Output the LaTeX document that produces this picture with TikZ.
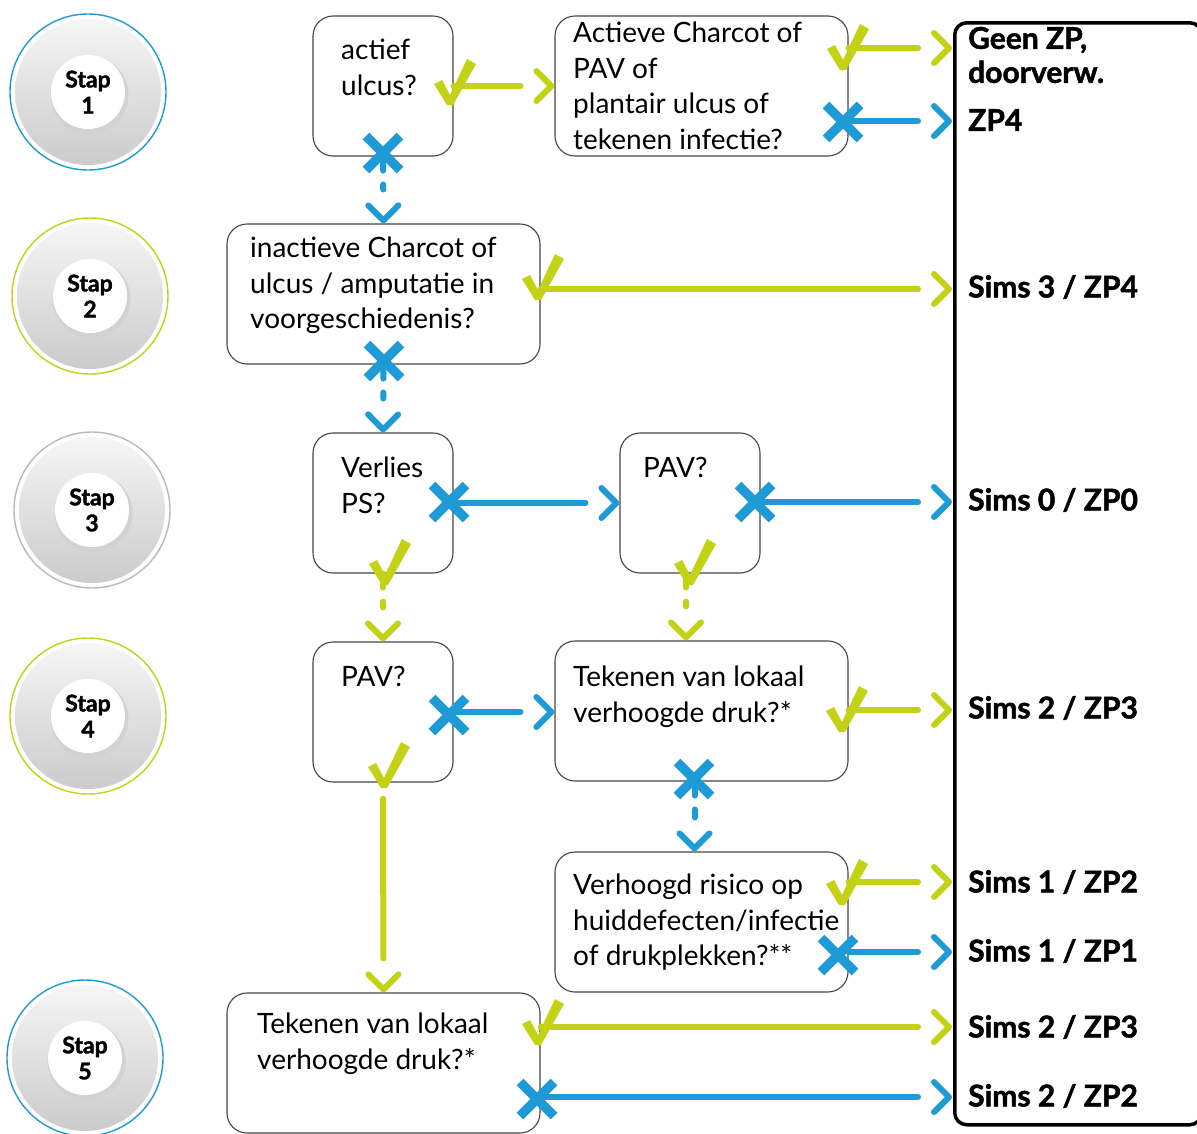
\documentclass[tikz,border=0pt]{standalone}
\usepackage{fontspec}
\setmainfont{Lato}
\newfontfamily\heavyfont[BoldFeatures={FakeBold=1.6}]{Lato}
\usetikzlibrary{arrows.meta,calc,decorations.markings}
\definecolor{lime}{RGB}{196,210,22}
\definecolor{cblue}{RGB}{30,155,214}
\definecolor{boxline}{RGB}{70,70,70}
\tikzset{
  qbox/.style={rectangle, draw=boxline, line width=1.1pt, rounded corners=20pt, inner sep=0pt, fill=white},
  qtext/.style={anchor=north west, inner sep=0pt, align=left, font=\fontsize{28}{35.5}\selectfont, text=black},
  rlabel/.style={anchor=west, inner sep=0pt, align=left, font=\heavyfont\bfseries\fontsize{30}{34}\selectfont, text=black},
  conn/.style={draw=#1, line width=6pt, line cap=round, shorten >=34pt,
    postaction={decorate, decoration={markings, mark=at position 1 with
      {\draw[#1, solid, shorten >=0pt, shorten <=0pt, line width=6pt, line cap=round, line join=round]
         (-18pt,-15pt) -- (-3pt,0pt) -- (-18pt,15pt);}}}},
  gconn/.style={conn=lime},
  bconn/.style={conn=cblue},
  dashv/.style={dash pattern=on 14pt off 14pt},
  stap/.style={circle, minimum size=156pt, inner sep=0pt, line width=1.4pt, fill=white,
    align=center, font=\heavyfont\bfseries\fontsize{23}{26}\selectfont,
    path picture={
      \shade[top color=gray!6, bottom color=gray!42] (path picture bounding box.center) circle[radius=73pt];
      \fill[gray!35] ([shift={(1.5pt,-3pt)}]path picture bounding box.center) circle[radius=39pt];
      \fill[white] (path picture bounding box.center) circle[radius=37pt];
    }},
  chk/.pic={\fill[lime] (-16,-19) -- (-8,-23) -- (0,-8) -- (17,-44) -- (26,-39) -- (3,2) -- (-3,2) -- cycle;},
  crs/.pic={\draw[cblue, line width=9.5pt] (-17,-17) -- (17,17) (-17,17) -- (17,-17);}
}
\begin{document}
\begin{tikzpicture}[x=1pt,y=-1pt]
\useasboundingbox (0,0) rectangle (1197,1133);
\fill[white] (0,0) rectangle (1197,1133);

% step circles
\node[stap, draw=cblue] (s1) at (88,92) {Stap\\1};
\node[stap, draw=lime] (s2) at (90,296) {Stap\\2};
\node[stap, draw=gray!55] (s3) at (92,510) {Stap\\3};
\node[stap, draw=lime] (s4) at (88,716) {Stap\\4};
\node[stap, draw=cblue] (s5) at (85,1058) {Stap\\5};

% right panel
\node[draw=black, line width=3.5pt, rounded corners=12pt, minimum width=247pt, minimum height=1102pt,
      inner sep=0pt, anchor=north west] (panel) at (953,21) {};

% boxes
\node[qbox, minimum width=140pt, minimum height=140pt] (b1) at (383,86) {};
\node[qbox, minimum width=293pt, minimum height=140pt] (b2) at (701.5,86) {};
\node[qbox, minimum width=313pt, minimum height=140pt] (b3) at (383.5,294) {};
\node[qbox, minimum width=140pt, minimum height=140pt] (b4) at (383,503) {};
\node[qbox, minimum width=140pt, minimum height=140pt] (b5) at (690,503) {};
\node[qbox, minimum width=140pt, minimum height=140pt] (b6) at (383,712) {};
\node[qbox, minimum width=293pt, minimum height=140pt] (b7) at (701.5,711) {};
\node[qbox, minimum width=293pt, minimum height=140pt] (b8) at (701.5,922) {};
\node[qbox, minimum width=313pt, minimum height=140pt] (b9) at (383.5,1063) {};

% end points on the panel
\coordinate (e1) at (952,48);
\coordinate (e2) at (952,121);
\coordinate (e3) at (952,289);
\coordinate (e4) at (952,502);
\coordinate (e5) at (952,710);
\coordinate (e6) at (952,882);
\coordinate (e7) at (952,952);
\coordinate (e8) at (952,1027);
\coordinate (e9) at (952,1097);

% connectors
\draw[gconn] (b1.east) -- (b2.west);
\draw[gconn] (b2.east |- e1) -- (e1);
\draw[bconn] (b2.east |- e2) -- (e2);
\draw[bconn, dashv] (b1.south) -- (b3.north);
\draw[gconn] (b3.east |- e3) -- (e3);
\draw[bconn, dashv] (b3.south) -- (b4.north);
\draw[bconn] (b4.east) -- (b5.west);
\draw[bconn] (b5.east |- e4) -- (e4);
\draw[gconn, dashv] (b4.south) -- (b6.north);
\draw[gconn, dashv] ([xshift=-4pt]b5.south) -- ([xshift=-4pt]b5.south |- b7.north);
\draw[bconn] (b6.east) -- (b6.east -| b7.west);
\draw[gconn] (b7.east |- e5) -- (e5);
\draw[bconn, dashv] ([xshift=-7pt]b7.south) -- ([xshift=-7pt]b8.north);
\draw[gconn] ([yshift=-16pt]b6.south) -- (b9.north);
\draw[gconn] (b8.east |- e6) -- (e6);
\draw[bconn] (b8.east |- e7) -- (e7);
\draw[gconn] (b9.east |- e8) -- (e8);
\draw[bconn] (b9.east |- e9) -- (e9);

% yes / no marks
\pic at (450,103) {chk};
\pic at (843,68) {chk};
\pic at (538,298) {chk};
\pic at (385,583) {chk};
\pic at (690,583) {chk};
\pic at (384,786) {chk};
\pic at (842,730) {chk};
\pic at (842,903) {chk};
\pic at (538,1043) {chk};
\pic at (383,153) {crs};
\pic at (843,122) {crs};
\pic at (384,361) {crs};
\pic at (449,502) {crs};
\pic at (755,502) {crs};
\pic at (449,715) {crs};
\pic at (694,779) {crs};
\pic at (838,955) {crs};
\pic at (537,1099) {crs};

% box texts
\node[qtext] (t1) at (341,39) {actief\\ulcus?};
\node[qtext] (t2) at (573,22) {Actieve Charcot of\\PAV of\\plantair ulcus of\\tekenen infectie?};
\node[qtext] (t3) at (250,237) {inactieve Charcot of\\ulcus / amputatie in\\voorgeschiedenis?};
\node[qtext] (t4) at (341,457) {Verlies\\PS?};
\node[qtext] (t5) at (643,457) {PAV?};
\node[qtext] (t6) at (341,666) {PAV?};
\node[qtext] (t7) at (573,666) {Tekenen van lokaal\\verhoogde druk?*};
\node[qtext] (t8) at (573,874) {Verhoogd risico op\\huiddefecten/infectie\\of drukplekken?**};
\node[qtext] (t9) at (257,1013) {Tekenen van lokaal\\verhoogde druk?*};

% outcome labels
\node[rlabel] (r0) at (968,55) {Geen ZP,\\doorverw.};
\node[rlabel] (r1) at (968,120) {ZP4};
\node[rlabel] (r2) at (968,287) {Sims 3 / ZP4};
\node[rlabel] (r3) at (968,500) {Sims 0 / ZP0};
\node[rlabel] (r4) at (968,708) {Sims 2 / ZP3};
\node[rlabel] (r5) at (968,882) {Sims 1 / ZP2};
\node[rlabel] (r6) at (968,951) {Sims 1 / ZP1};
\node[rlabel] (r7) at (968,1027) {Sims 2 / ZP3};
\node[rlabel] (r8) at (968,1096) {Sims 2 / ZP2};
\end{tikzpicture}
\end{document}
